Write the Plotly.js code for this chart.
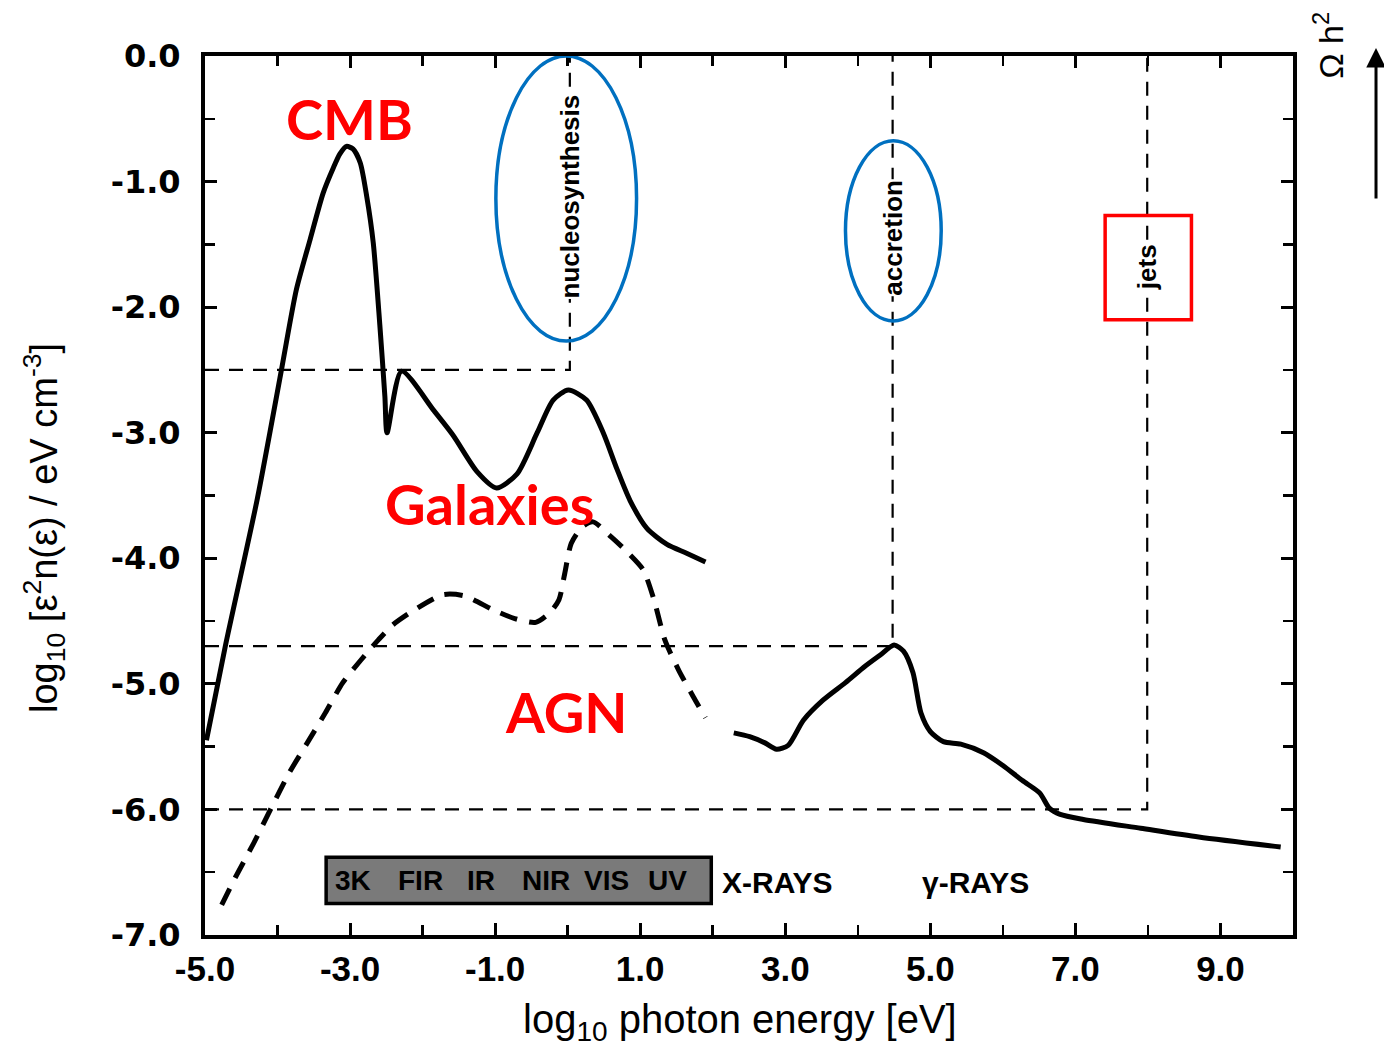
<!DOCTYPE html>
<html>
<head>
<meta charset="utf-8">
<script src="https://cdn.plot.ly/plotly-3.0.1.min.js"></script>
<style>html,body{margin:0;padding:0;background:#fff;}#chart{width:1384px;height:1050px;}</style>
</head>
<body>
<div id="chart"></div>
<script>
// ---- data ----
const cmbGalX = [-4.98,-4.72,-4.28,-3.94,-3.74,-3.55,-3.37,-3.23,-3.14,-3.05,-2.96,-2.86,-2.77,-2.68,-2.59,-2.52,-2.49,-2.29,-1.85,-1.58,-1.25,-0.98,-0.70,-0.42,-0.20,0.01,0.26,0.49,0.68,0.86,1.09,1.37,1.64,1.90];
const cmbGalY = [-5.45,-4.70,-3.53,-2.48,-1.86,-1.46,-1.09,-0.89,-0.78,-0.72,-0.74,-0.85,-1.12,-1.49,-2.14,-2.71,-3.00,-2.51,-2.82,-3.02,-3.31,-3.44,-3.33,-3.00,-2.74,-2.66,-2.74,-3.00,-3.29,-3.54,-3.76,-3.89,-3.96,-4.03];

const highEX = [2.29,2.51,2.72,2.88,3.04,3.25,3.52,3.83,4.10,4.31,4.50,4.63,4.76,4.87,5.00,5.18,5.42,5.74,6.00,6.27,6.51,6.64,6.79,7.11,7.90,8.70,9.83];
const highEY = [-5.39,-5.42,-5.47,-5.52,-5.49,-5.29,-5.13,-4.99,-4.86,-4.77,-4.69,-4.74,-4.91,-5.23,-5.38,-5.46,-5.48,-5.55,-5.65,-5.77,-5.87,-5.99,-6.04,-6.08,-6.15,-6.22,-6.30];

const agnX = [-4.77,-4.58,-4.33,-4.08,-3.84,-3.59,-3.34,-3.10,-2.85,-2.61,-2.41,-2.11,-1.72,-1.42,-1.03,-0.73,-0.44,-0.24,-0.12,-0.04,0.05,0.20,0.35,0.60,0.84,1.04,1.19,1.34,1.53,1.73,1.90];
const agnY = [-6.76,-6.54,-6.27,-5.98,-5.71,-5.47,-5.23,-4.99,-4.81,-4.65,-4.53,-4.41,-4.29,-4.30,-4.41,-4.48,-4.51,-4.43,-4.33,-4.12,-3.88,-3.75,-3.71,-3.83,-3.96,-4.09,-4.33,-4.65,-4.89,-5.10,-5.27];

// reference (Omega h^2) guide lines
const nucleoRefX = [-5, 0.03, 0.03];
const nucleoRefY = [-2.5, -2.5, 0];
const accretionRefX = [-5, 4.48, 4.48];
const accretionRefY = [-4.7, -4.7, 0];
const jetsRefX = [-5, 7.99, 7.99];
const jetsRefY = [-6.0, -6.0, 0];

const xTickVals = [-5, -3, -1, 1, 3, 5, 7, 9];
const xTickText = ["-5.0", "-3.0", "-1.0", "1.0", "3.0", "5.0", "7.0", "9.0"];
const yTickVals = [0, -1, -2, -3, -4, -5, -6, -7];
const yTickText = ["0.0", "-1.0", "-2.0", "-3.0", "-4.0", "-5.0", "-6.0", "-7.0"];

const bandLabels = ["3K", "FIR", "IR", "NIR", "VIS", "UV"];
const bandLabelX = [-2.96, -2.03, -1.19, -0.30, 0.53, 1.37];

// ---- traces ----
const refLine = {color: '#000', width: 2.2, dash: '14px,10px'};
const traces = [
  {x: nucleoRefX, y: nucleoRefY, mode: 'lines', line: refLine, hoverinfo: 'skip'},
  {x: accretionRefX, y: accretionRefY, mode: 'lines', line: refLine, hoverinfo: 'skip'},
  {x: jetsRefX, y: jetsRefY, mode: 'lines', line: refLine, hoverinfo: 'skip'},
  {x: cmbGalX, y: cmbGalY, mode: 'lines', line: {color: '#000', width: 5, shape: 'spline', smoothing: 0.7}},
  {x: highEX, y: highEY, mode: 'lines', line: {color: '#000', width: 5, shape: 'spline', smoothing: 0.7}},
  {x: agnX, y: agnY, mode: 'lines', line: {color: '#000', width: 5, dash: '18px,12px', shape: 'spline', smoothing: 0.7}}
];

const redFont = {family: 'Lato, Open Sans, sans-serif', size: 56, color: '#ff0000', weight: 'bold'};
const vertFont = {family: 'Liberation Sans, Arial, sans-serif', size: 26, color: '#000', weight: 'bold'};
const bandFont = {family: 'Liberation Sans, Arial, sans-serif', size: 30, color: '#000', weight: 'bold'};
const boxFont = {family: 'Liberation Sans, Arial, sans-serif', size: 28, color: '#000', weight: 'bold'};

const annotations = [
  {x: -3.01, y: -0.50, text: 'CMB', showarrow: false, font: redFont},
  {x: -1.08, y: -3.56, text: 'Galaxies', showarrow: false, font: redFont},
  {x: -0.01, y: -5.22, text: 'AGN', showarrow: false, font: redFont},
  {x: 0.03, y: -1.12, text: 'nucleosynthesis', textangle: -90, showarrow: false, font: vertFont, bgcolor: '#fff', borderpad: 0},
  {x: 4.48, y: -1.45, text: 'accretion', textangle: -90, showarrow: false, font: vertFont, bgcolor: '#fff', borderpad: 0},
  {x: 7.99, y: -1.68, text: 'jets', textangle: -90, showarrow: false, font: vertFont, bgcolor: '#fff', borderpad: 0},
  {x: 2.89, y: -6.58, text: 'X-RAYS', showarrow: false, font: bandFont},
  {x: 5.62, y: -6.58, text: 'γ-RAYS', showarrow: false, font: bandFont},
  {xref: 'paper', yref: 'paper', x: 1.032, y: 1.0125, xanchor: 'center', yanchor: 'middle', text: 'Ω h<sup>2</sup>', textangle: -90, showarrow: false, font: {size: 34}},
  {xref: 'paper', yref: 'paper', x: 1.0763, y: 1.009, text: '', showarrow: true, ax: 0, ay: 152, arrowhead: 2, arrowsize: 1.3, arrowwidth: 3, arrowcolor: '#000'},
  {xref: 'paper', yref: 'paper', x: 0.4917, y: -0.099, xanchor: 'center', yanchor: 'middle', text: 'log<sub>10</sub> photon energy [eV]', showarrow: false, font: {size: 40}},
  {xref: 'paper', yref: 'paper', x: -0.148, y: 0.463, xanchor: 'center', yanchor: 'middle', text: 'log<sub>10</sub> [ε<sup>2</sup>n(ε) / eV cm<sup>-3</sup>]', textangle: -90, showarrow: false, font: {size: 38}}
];
bandLabels.forEach((t, i) => annotations.push({x: bandLabelX[i], y: -6.565, text: t, showarrow: false, font: boxFont}));

const layout = {
  width: 1384, height: 1050,
  margin: {l: 205, r: 91, t: 56, b: 115},
  paper_bgcolor: '#fff', plot_bgcolor: '#fff',
  showlegend: false,
  font: {family: 'Liberation Sans, Arial, sans-serif', color: '#000'},
  xaxis: {
    range: [-5, 10], showgrid: false, zeroline: false,
    showline: true, linewidth: 4, linecolor: '#000', mirror: 'allticks',
    ticks: 'inside', ticklen: 12, tickwidth: 3, tickcolor: '#000',
    tickmode: 'array', tickvals: xTickVals, ticktext: xTickText,
    minor: {tickmode: 'linear', tick0: 0, dtick: 1, ticks: 'inside', ticklen: 10, tickwidth: 2.5, tickcolor: '#000', showgrid: false},
    tickfont: {family: 'Liberation Sans, Arial', size: 35, weight: 'bold'},
    ticklabelstandoff: 0
  },
  yaxis: {
    range: [-7, 0], showgrid: false, zeroline: false,
    showline: true, linewidth: 4, linecolor: '#000', mirror: 'allticks',
    ticks: 'inside', ticklen: 12, tickwidth: 3, tickcolor: '#000',
    tickmode: 'array', tickvals: yTickVals, ticktext: yTickText,
    minor: {tickmode: 'linear', tick0: 0, dtick: 0.5, ticks: 'inside', ticklen: 10, tickwidth: 2.5, tickcolor: '#000', showgrid: false},
    tickfont: {family: 'DejaVu Sans, Liberation Sans', size: 32, weight: 'bold'},
    ticklabelstandoff: 14
  },
  shapes: [
    {type: 'circle', xref: 'x', yref: 'y', x0: -0.99, x1: 0.95, y0: -2.27, y1: 0.0, line: {color: '#0070c0', width: 3.5}},
    {type: 'circle', xref: 'x', yref: 'y', x0: 3.83, x1: 5.15, y0: -2.11, y1: -0.675, line: {color: '#0070c0', width: 3.5}},
    {type: 'rect', xref: 'x', yref: 'y', x0: 7.41, x1: 8.60, y0: -2.10, y1: -1.27, line: {color: '#ff0000', width: 3.5}},
    {type: 'rect', xref: 'x', yref: 'y', x0: -3.33, x1: 1.98, y0: -6.75, y1: -6.38, fillcolor: '#7a7a7a', line: {color: '#000', width: 3.5}, layer: 'below'}
  ],
  annotations: annotations
};

Plotly.newPlot('chart', traces, layout, {displayModeBar: false, staticPlot: true});
</script>
</body>
</html>
